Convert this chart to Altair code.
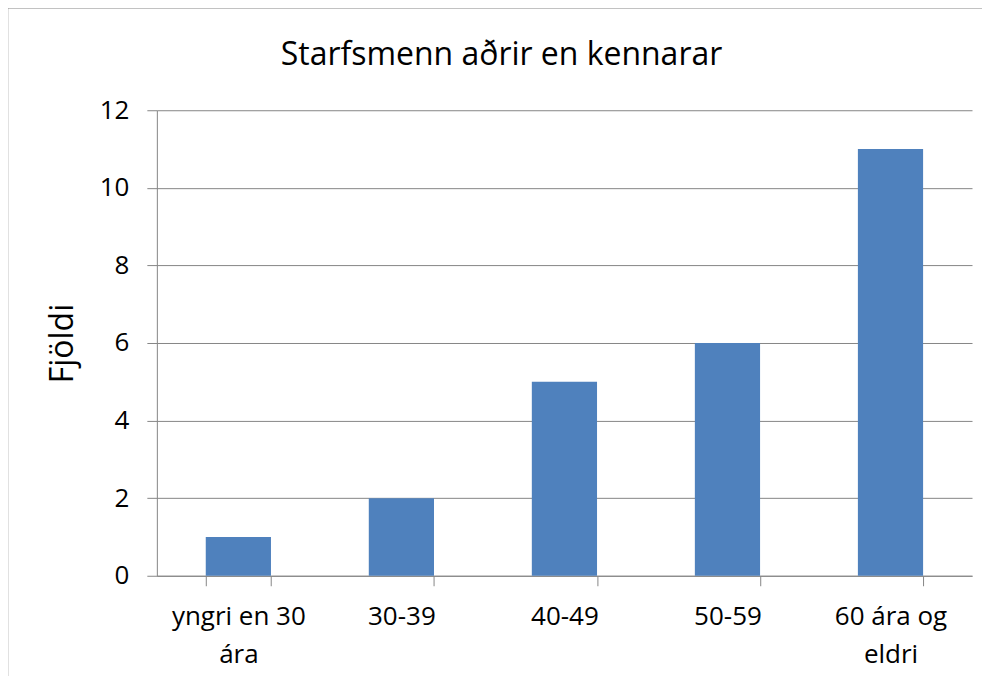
import altair as alt
import pandas as pd

categories = ["yngri en 30 ára", "30-39", "40-49", "50-59", "60 ára og eldri"]
label_lines = [["yngri en 30", "ára"], ["30-39"], ["40-49"], ["50-59"], ["60 ára og", "eldri"]]
values = [1, 2, 5, 6, 11]
y_ticks = [0, 2, 4, 6, 8, 10, 12]

df = pd.DataFrame({"cat": categories, "val": values})

# build a labelExpr that splits the long labels over two lines
expr = "datum.value"
for cat, lines in zip(categories, label_lines):
    if len(lines) > 1:
        arr = "[" + ",".join("'" + l + "'" for l in lines) + "]"
        expr = f"datum.value == '{cat}' ? {arr} : ({expr})"

FONT = "Open Sans"
W, H = 816, 466

bars = alt.Chart(df).mark_bar(color="#4F81BD").encode(
    x=alt.X(
        "cat:N",
        sort=categories,
        scale=alt.Scale(paddingInner=0.6, paddingOuter=0.3),
        axis=alt.Axis(
            title=None,
            labelAngle=0,
            labelExpr=expr,
            labelFont=FONT,
            labelFontSize=26,
            labelColor="#000000",
            labelLineHeight=38,
            labelPadding=18,
            labelBaseline="top",
            tickBand="extent",
            tickSize=10,
            tickColor="#868686",
            domainColor="#868686",
            grid=False,
        ),
    ),
    y=alt.Y(
        "val:Q",
        scale=alt.Scale(domain=[0, 12]),
        axis=alt.Axis(
            values=y_ticks,
            title="Fjöldi",
            titleFont=FONT,
            titleFontSize=32,
            titleFontWeight="normal",
            titleColor="#000000",
            titlePadding=20,
            labelFont=FONT,
            labelFontSize=26,
            labelColor="#000000",
            labelPadding=18,
            tickSize=10,
            tickColor="#868686",
            domainColor="#868686",
            gridColor="#868686",
            gridWidth=1,
        ),
    ),
)

frame = alt.Chart(pd.DataFrame({"k": [0]})).mark_rect(
    fill=None, stroke="#868686", strokeWidth=1.5
).encode(
    x=alt.value(-149.5), x2=alt.value(W + 80),
    y=alt.value(-102.5), y2=alt.value(H + 200),
)

chart = alt.layer(frame, bars).properties(
    width=W,
    height=H,
    autosize=alt.AutoSizeParams(type="none"),
    padding={"left": 149, "top": 102, "right": 10, "bottom": 100},
    title=alt.TitleParams(
        "Starfsmenn aðrir en kennarar",
        font=FONT,
        fontSize=32,
        fontWeight="normal",
        color="#000000",
        anchor="middle",
        frame="group",
        baseline="alphabetic",
        dx=-63,
        offset=0,
        dy=90,
    ),
).configure_view(stroke=None)

chart.save("out.html", embed_options={"renderer": "svg", "actions": False})
